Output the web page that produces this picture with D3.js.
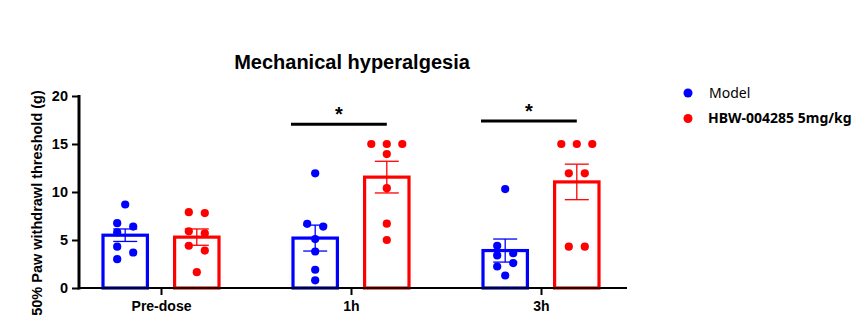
<!DOCTYPE html>
<html lang="en">
<head>
  <meta charset="UTF-8">
  <title>Mechanical hyperalgesia</title>
  <script src="https://d3js.org/d3.v7.min.js"></script>
  <style>
    body { margin: 0; background: #fff; }
    svg { display: block; font-family: "Liberation Sans", Arial, Helvetica, sans-serif; }
  </style>
</head>
<body>
<div id="chart"></div>
<script>
// time points and groups
var timepoints = ["Pre-dose", "1h", "3h"];
var groups = ["Model", "HBW-004285 5mg/kg"];
var yTicks = [0, 5, 10, 15, 20];

// individual animals, 50% paw withdrawal threshold (g)
var modelValues = [
  [8.7, 6.75, 6.4, 5.8, 4.3, 3.7, 3.0],
  [11.95, 6.68, 6.4, 5.1, 3.8, 1.9, 0.8],
  [10.3, 4.4, 3.63, 3.39, 2.6, 2.24, 1.3]
];
var hbwValues = [
  [7.9, 7.8, 5.9, 5.7, 4.4, 3.9, 1.65],
  [15, 15, 15, 13.95, 10.4, 6.7, 5.0],
  [15, 15, 15, 11.95, 11.95, 4.3, 4.3]
];

// bar heights (mean) and error bars (SEM)
var modelMean = [5.5, 5.2, 3.9];
var modelSem = [0.65, 1.35, 1.2];
var hbwMean = [5.3, 11.55, 11.05];
var hbwSem = [0.85, 1.65, 1.85];

// significance brackets
var sigPoints = ["1h", "3h"];
var sigLevels = [17.05, 17.4];
var sigLabels = ["*", "*"];

var width = 865, height = 335;
var colours = { "Model": "#0000ff", "HBW-004285 5mg/kg": "#ff0000" };

var svg = d3.select("#chart").append("svg")
  .attr("width", width)
  .attr("height", height);

var y = d3.scaleLinear().domain([0, 20]).range([288, 96]);
var x = d3.scalePoint().domain(timepoints).range([66, 636]).padding(0.5);
var sub = d3.scaleBand().domain(groups).range([-58, 58]).paddingInner(0.38);

// build one record per bar
var bars = [];
timepoints.forEach(function(t, i) {
  bars.push({ t: t, g: groups[0], mean: modelMean[i], sem: modelSem[i], pts: modelValues[i] });
  bars.push({ t: t, g: groups[1], mean: hbwMean[i], sem: hbwSem[i], pts: hbwValues[i] });
});

function barCenter(d) { return x(d.t) + sub(d.g) + sub.bandwidth() / 2; }

// spread the dots sideways: equal values share a row, close neighbours alternate
function spread(values) {
  var sorted = values.slice().sort(function(a, b) { return b - a; });
  var out = [];
  var chains = [];
  sorted.forEach(function(v) {
    var last = chains[chains.length - 1];
    if (last && y(v) - y(last[last.length - 1][0]) < 8) {
      var row = last[last.length - 1];
      if (Math.abs(y(v) - y(row[0])) < 1) row.push(v); else last.push([v]);
    } else {
      chains.push([[v]]);
    }
  });
  chains.forEach(function(chain) {
    chain.forEach(function(row, k) {
      if (row.length > 1) {
        row.forEach(function(v, j) {
          var step = row.length === 2 ? 16 : 15.5;
          out.push({ v: v, dx: (j - (row.length - 1) / 2) * step });
        });
      } else if (chain.length > 1) {
        out.push({ v: row[0], dx: k % 2 === 0 ? -8 : 8 });
      } else {
        out.push({ v: row[0], dx: 0 });
      }
    });
  });
  return out;
}

// bars
svg.append("g").selectAll("rect")
  .data(bars)
  .join("rect")
    .attr("x", function(d) { return x(d.t) + sub(d.g); })
    .attr("y", function(d) { return y(d.mean); })
    .attr("width", sub.bandwidth())
    .attr("height", function(d) { return y(0) - y(d.mean); })
    .attr("fill", "#fff")
    .attr("stroke", function(d) { return colours[d.g]; })
    .attr("stroke-width", 3.2);

// dots
var dotGroups = svg.append("g").selectAll("g")
  .data(bars)
  .join("g");
dotGroups.selectAll("circle")
  .data(function(d) {
    return spread(d.pts).map(function(p) { return { cx: barCenter(d) + p.dx, v: p.v, g: d.g }; });
  })
  .join("circle")
    .attr("cx", function(d) { return d.cx; })
    .attr("cy", function(d) { return y(d.v); })
    .attr("r", 4.1)
    .attr("fill", function(d) { return colours[d.g]; });

// error bars
var err = svg.append("g").selectAll("g")
  .data(bars)
  .join("g")
    .attr("stroke", function(d) { return colours[d.g]; })
    .attr("stroke-width", 1.3);
err.append("line")
  .attr("x1", barCenter).attr("x2", barCenter)
  .attr("y1", function(d) { return y(d.mean + d.sem); })
  .attr("y2", function(d) { return y(d.mean - d.sem); });
err.append("line")
  .attr("x1", function(d) { return barCenter(d) - 12; })
  .attr("x2", function(d) { return barCenter(d) + 12; })
  .attr("y1", function(d) { return y(d.mean + d.sem); })
  .attr("y2", function(d) { return y(d.mean + d.sem); });
err.append("line")
  .attr("x1", function(d) { return barCenter(d) - 12; })
  .attr("x2", function(d) { return barCenter(d) + 12; })
  .attr("y1", function(d) { return y(d.mean - d.sem); })
  .attr("y2", function(d) { return y(d.mean - d.sem); });

// y axis
var yAxis = svg.append("g")
  .attr("transform", "translate(79,0)")
  .call(d3.axisLeft(y).tickValues(yTicks).tickSize(7).tickPadding(4).tickSizeOuter(0));
yAxis.select(".domain").attr("stroke-width", 3).attr("d", "M0," + (y(0) + 1.5) + "V" + (y(20) - 1));
yAxis.selectAll(".tick line").attr("stroke-width", 2);
yAxis.selectAll("text").attr("font-size", 14.5).attr("font-weight", "bold").attr("fill", "#000")
  .attr("font-family", "Liberation Sans, Arial, sans-serif");

// x axis
var xAxis = svg.append("g")
  .attr("transform", "translate(0," + y(0) + ")")
  .call(d3.axisBottom(x).tickSize(7).tickPadding(6).tickSizeOuter(0));
xAxis.select(".domain").attr("stroke-width", 2.2).attr("d", "M78,0H627");
xAxis.selectAll(".tick line").attr("stroke-width", 2);
xAxis.selectAll("text").attr("font-size", 14).attr("font-weight", "bold").attr("fill", "#000")
  .attr("font-family", "Liberation Sans, Arial, sans-serif");

// significance lines and stars
sigPoints.forEach(function(t, i) {
  var x1 = x(t) + sub(groups[0]) - 2;
  var x2 = x(t) + sub(groups[1]) + sub.bandwidth() / 2;
  svg.append("line")
    .attr("x1", x1).attr("x2", x2)
    .attr("y1", y(sigLevels[i])).attr("y2", y(sigLevels[i]))
    .attr("stroke", "#000").attr("stroke-width", 3);
  svg.append("text")
    .attr("x", (x1 + x2) / 2)
    .attr("y", y(sigLevels[i]) - 3)
    .attr("text-anchor", "middle")
    .attr("font-size", 20)
    .attr("font-weight", "bold")
    .text(sigLabels[i]);
});

// title
svg.append("text")
  .attr("x", 352)
  .attr("y", 69)
  .attr("text-anchor", "middle")
  .attr("font-size", 20)
  .attr("font-weight", "bold")
  .text("Mechanical hyperalgesia");

// y axis title
svg.append("text")
  .attr("transform", "translate(42,203) rotate(-90)")
  .attr("text-anchor", "middle")
  .attr("font-size", 14.5)
  .attr("font-weight", "bold")
  .text("50% Paw withdrawl threshold (g)");

// legend
var legend = svg.append("g").selectAll("g")
  .data(groups)
  .join("g")
    .attr("transform", function(d, i) { return "translate(688," + (93 + i * 25.5) + ")"; });
legend.append("circle")
  .attr("r", 4.5)
  .attr("fill", function(d) { return colours[d]; });
legend.append("text")
  .attr("x", function(d, i) { return i === 0 ? 21 : 20; })
  .attr("dy", "0.35em")
  .attr("font-family", "'Noto Sans', 'Open Sans', sans-serif")
  .attr("font-size", 14)
  .attr("font-weight", function(d, i) { return i === 0 ? "normal" : "bold"; })
  .text(function(d) { return d; });
</script>
</body>
</html>
